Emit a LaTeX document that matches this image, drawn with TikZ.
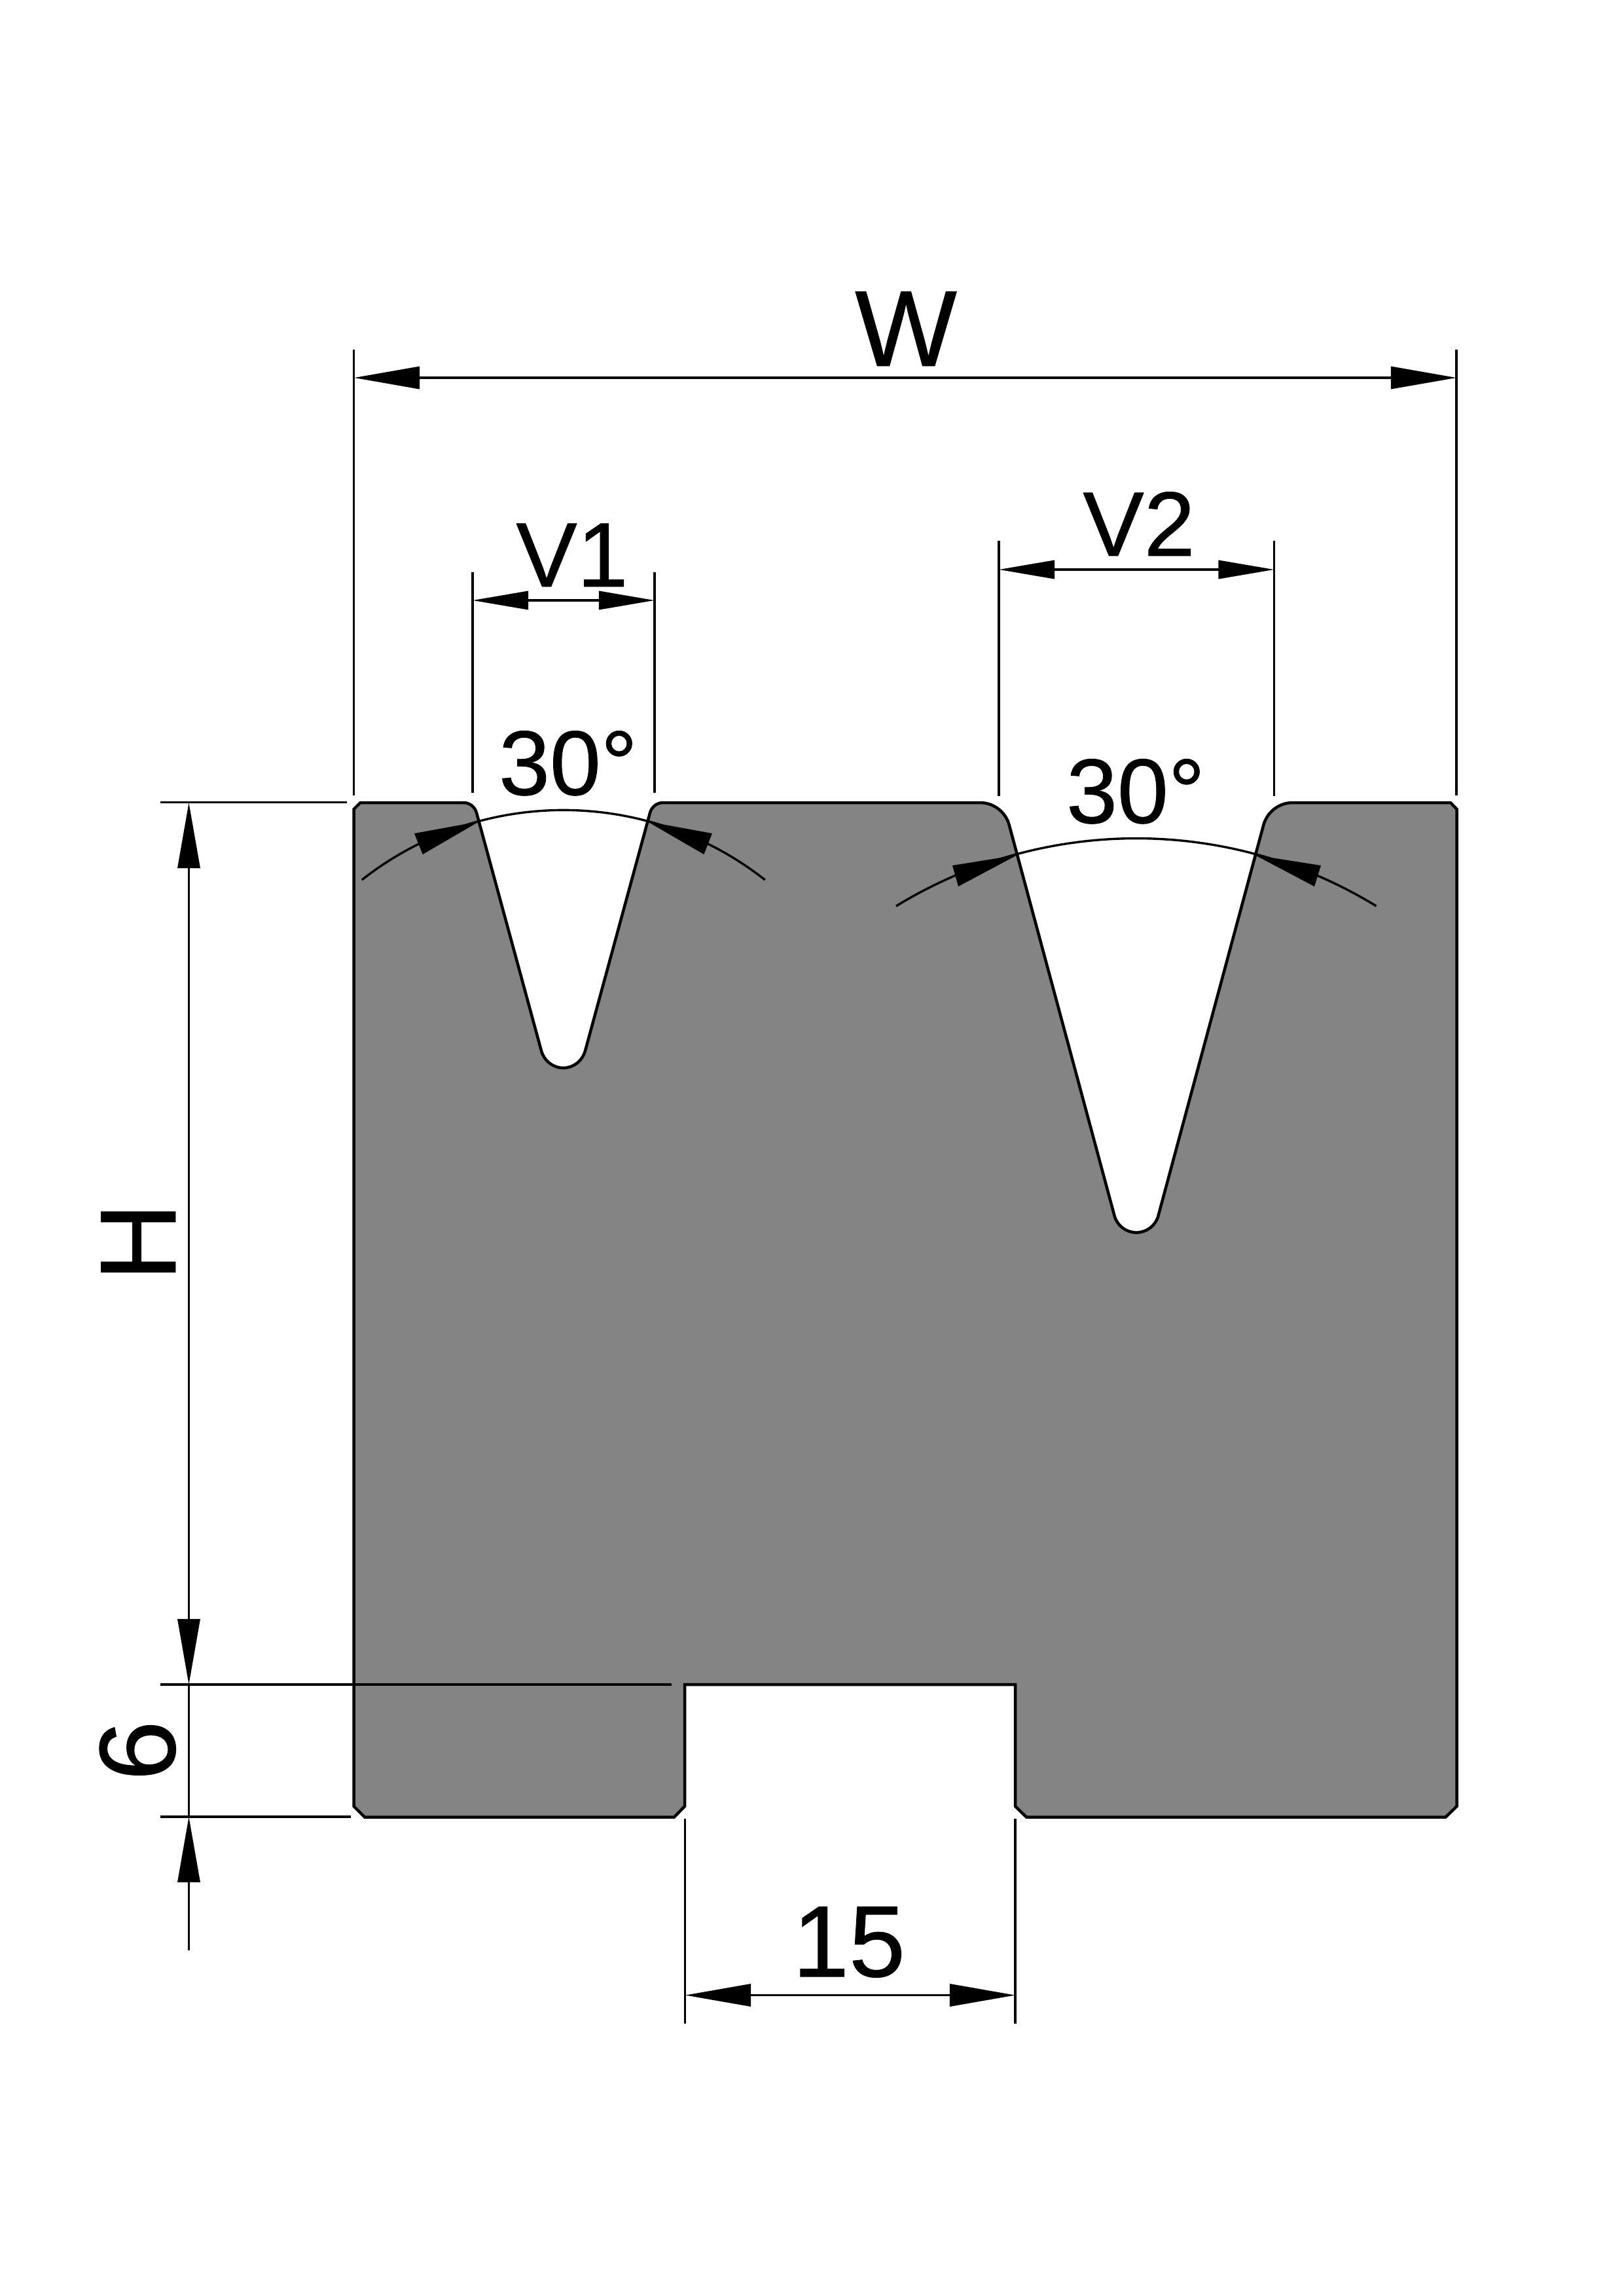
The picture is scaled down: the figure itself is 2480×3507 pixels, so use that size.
\documentclass[tikz,border=0pt]{standalone}
\usepackage{fontspec}
\setmainfont[FakeBold=0.6,AutoFakeBold=false]{Liberation Sans}
\newfontfamily\dimfont[FakeBold=0.6]{Liberation Sans}
\usetikzlibrary{arrows.meta}
\definecolor{diegray}{RGB}{132,132,132}
\tikzset{
  x=0.01cm,y=-0.01cm,
  outline/.style={fill=diegray,draw=black,line width=0.045cm,line join=miter},
  dimline/.style={draw=black,line width=0.034cm},
  bigdim/.style={dimline,{Triangle[length=1cm,width=0.34cm]}-{Triangle[length=1cm,width=0.34cm]}},
  smalldim/.style={dimline,{Triangle[length=0.85cm,width=0.28cm]}-{Triangle[length=0.85cm,width=0.28cm]}},
  headpoly/.style={fill=black,draw=none},
  lblA/.style={anchor=base,inner sep=0pt,font=\dimfont\fontsize{39.8pt}{44pt}\selectfont},
  lblB/.style={anchor=base,inner sep=0pt,font=\dimfont\fontsize{44pt}{48pt}\selectfont},
  lblC/.style={anchor=base,inner sep=0pt,font=\dimfont\fontsize{46.9pt}{52pt}\selectfont},
}
\begin{document}
\begin{tikzpicture}
\useasboundingbox (0,0) rectangle (2480,3507);
\fill[white] (0,0) rectangle (2480,3507);
% die body
\draw[outline] (540.5,1236) -- (550.5,1226) -- (708,1226)
  .. controls (717.5,1226) and (725.55,1232.4) .. (728,1241.5)
  -- (827,1605)
  .. controls (831.06,1620.2) and (844.8,1631.2) .. (860.5,1631.2)
  .. controls (876.2,1631.2) and (889.94,1620.2) .. (894,1605)
  -- (993,1241.5)
  .. controls (995.45,1232.4) and (1003.5,1226) .. (1013,1226)
  -- (1497,1226)
  .. controls (1518,1226) and (1536.4,1240.1) .. (1541.8,1260.4)
  -- (1702.5,1856.9)
  .. controls (1706.56,1872.1) and (1720.3,1882.6) .. (1736,1882.6)
  .. controls (1751.7,1882.6) and (1765.44,1872.1) .. (1769.5,1856.9)
  -- (1930.2,1260.4)
  .. controls (1935.6,1240.1) and (1954,1226) .. (1975,1226)
  -- (2216,1226) -- (2225.5,1236) -- (2225.5,2759) -- (2208.5,2775.5)
  -- (1568,2775.5) -- (1551,2759) -- (1551,2573) -- (1046,2573)
  -- (1046,2759) -- (1030,2775.5) -- (557,2775.5) -- (540.5,2759) -- cycle;
% named dimension points
\coordinate (wextLa) at (540.5,534);  \coordinate (wextLb) at (540.5,1215);
\coordinate (wextRa) at (2225,534);   \coordinate (wextRb) at (2225,1215);
\coordinate (wL) at (541,577);        \coordinate (wR) at (2225,577);
\coordinate (aextLa) at (722,874);    \coordinate (aextLb) at (722,1211);
\coordinate (aextRa) at (1000,874);   \coordinate (aextRb) at (1000,1211);
\coordinate (aL) at (722,917);        \coordinate (aR) at (1000,917);
\coordinate (bextLa) at (1526,826);   \coordinate (bextLb) at (1526,1216);
\coordinate (bextRa) at (1946.5,826); \coordinate (bextRb) at (1946.5,1216);
\coordinate (bL) at (1526,870);       \coordinate (bR) at (1946.5,870);
\coordinate (hextTa) at (245,1225.5); \coordinate (hextTb) at (530,1225.5);
\coordinate (hextMa) at (245,2573);   \coordinate (hextMb) at (1026,2573);
\coordinate (hextBa) at (245,2775);   \coordinate (hextBb) at (536,2775);
\coordinate (hT) at (288.5,1226);     \coordinate (hM) at (288.5,2573);
\coordinate (sB) at (288.5,2775);     \coordinate (sE) at (288.5,2979);
\coordinate (cextLa) at (1046.5,2778);\coordinate (cextLb) at (1046.5,3091);
\coordinate (cextRa) at (1551,2778);  \coordinate (cextRb) at (1551,3091);
\coordinate (cL) at (1047,3047.5);    \coordinate (cR) at (1551,3047.5);
% extension lines
\draw[dimline] (wextLa) -- (wextLb);
\draw[dimline] (wextRa) -- (wextRb);
\draw[dimline] (aextLa) -- (aextLb);
\draw[dimline] (aextRa) -- (aextRb);
\draw[dimline] (bextLa) -- (bextLb);
\draw[dimline] (bextRa) -- (bextRb);
\draw[dimline] (hextTa) -- (hextTb);
\draw[dimline] (hextMa) -- (hextMb);
\draw[dimline] (hextBa) -- (hextBb);
\draw[dimline] (cextLa) -- (cextLb);
\draw[dimline] (cextRa) -- (cextRb);
% dimension lines
\draw[bigdim] (wL) -- (wR);
\draw[smalldim] (aL) -- (aR);
\draw[smalldim] (bL) -- (bR);
\draw[bigdim] (hT) -- (hM);
\draw[dimline] (hM) -- (sB);
\draw[dimline,{Triangle[length=1cm,width=0.34cm]}-] (sB) -- (sE);
\draw[bigdim] (cL) -- (cR);
% angle arcs
\coordinate (arcAstart) at (552.8,1344);
\coordinate (arcBstart) at (1369,1384);
\draw[dimline] (arcAstart) arc[start angle=-128.2,end angle=-51.8,radius=498];
\draw[dimline] (arcBstart) arc[start angle=-121.5,end angle=-58.5,radius=702];
% angle arrowheads
\fill[headpoly] (731.7,1255) -- (633,1273) -- (645.7,1305) -- cycle;
\fill[headpoly] (989.3,1255) -- (1088,1273) -- (1075.3,1305) -- cycle;
\fill[headpoly] (1554,1306) -- (1455,1322) -- (1464,1354) -- cycle;
\fill[headpoly] (1917,1306) -- (2018,1322) -- (2008,1354) -- cycle;
% labels
\node[lblC] (lblW) at (1384,559) {W};
\node[lblA] (lblVa) at (874,896) {V1};
\node[lblA] (lblVb) at (1740,849) {V2};
\node[lblA] (lblAa) at (868,1214) {30°};
\node[lblA] (lblAb) at (1735,1257) {30°};
\node[lblC,rotate=90] (lblH) at (268,1897) {H};
\node[lblC,rotate=90] (lblS) at (267,2674) {6};
\node[lblB] (lblC) at (1297,3019) {15};
\end{tikzpicture}
\end{document}
